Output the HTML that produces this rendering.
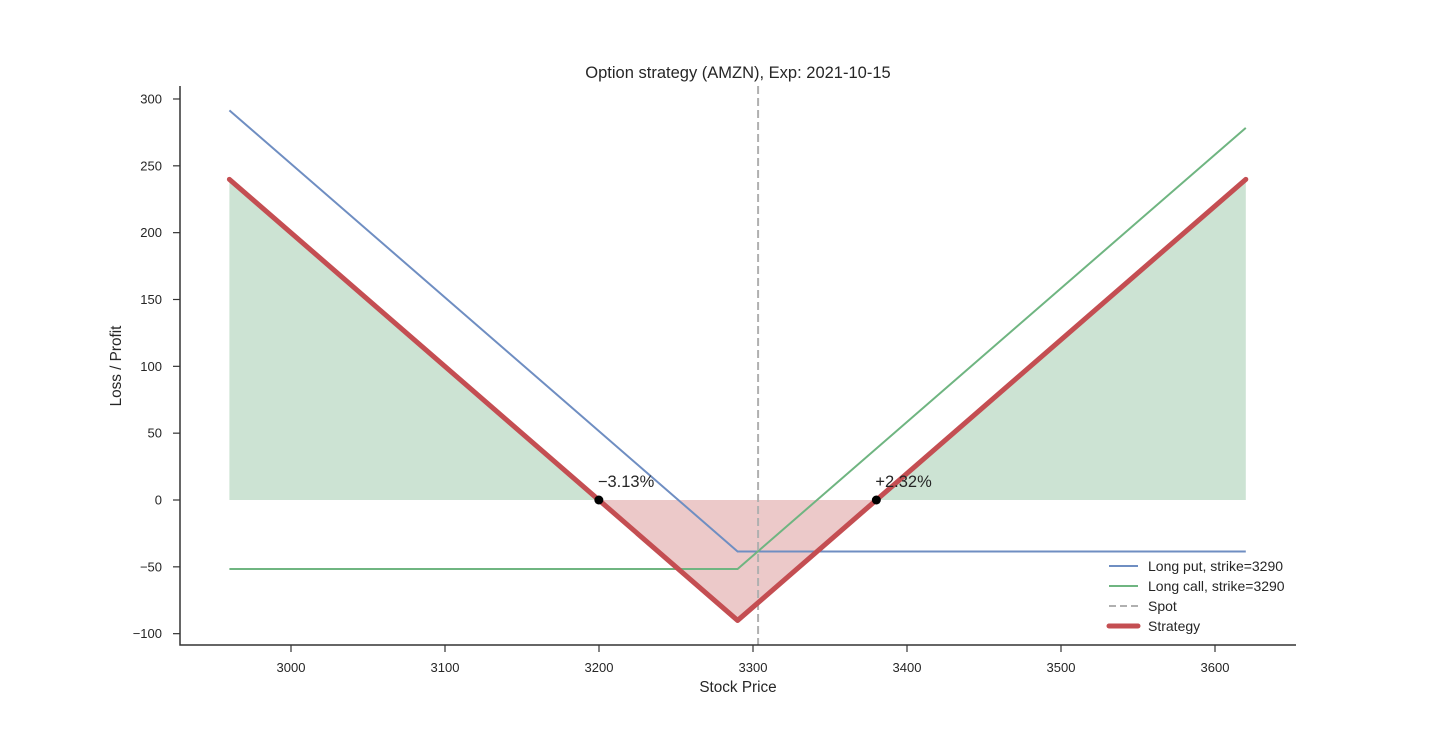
<!DOCTYPE html>
<html><head><meta charset="utf-8"><style>
body{margin:0;background:#fff;}
svg text{font-family:"Liberation Sans",sans-serif;fill:#262626;}
</style></head><body>
<svg id="chart" width="1440" height="725" xmlns="http://www.w3.org/2000/svg">
<g id="fills"></g><g id="lines"></g><g id="axes"></g><g id="legend"></g>
</svg>
<script>
const priceGrid = [2960, 3290, 3620];
const putValues = [291.5, -38.5, -38.5];
const callValues = [-51.6, -51.6, 278.4];
const strategyValues = [239.9, -90.1, 239.9];
const breakevens = [3199.9, 3380.1];
const breakevenLabels = ["\u22123.13%", "+2.32%"];
const spotPrice = 3303.3;
const xTicks = [3000, 3100, 3200, 3300, 3400, 3500, 3600];
const yTicks = [-100, -50, 0, 50, 100, 150, 200, 250, 300];
const legendLabels = ["Long put, strike=3290", "Long call, strike=3290", "Spot", "Strategy"];

const NS = "http://www.w3.org/2000/svg";
const X = v => 291 + (v - 3000) * 1.54;
const Y = v => 500 - v * 1.3367;
function el(tag, attrs, parent, txt) {
  const e = document.createElementNS(NS, tag);
  for (const k in attrs) e.setAttribute(k, attrs[k]);
  if (txt !== undefined) e.textContent = txt;
  document.getElementById(parent).appendChild(e);
  return e;
}
let gp = `M${X(priceGrid[0])},${Y(0)} L${X(priceGrid[0])},${Y(strategyValues[0])} L${X(breakevens[0])},${Y(0)} Z`;
let rp = `M${X(breakevens[0])},${Y(0)} L${X(priceGrid[1])},${Y(strategyValues[1])} L${X(breakevens[1])},${Y(0)} Z`;
let gp2 = `M${X(breakevens[1])},${Y(0)} L${X(priceGrid[2])},${Y(strategyValues[2])} L${X(priceGrid[2])},${Y(0)} Z`;
let f1 = el("path", {d: gp, fill: "#cce3d3"}, "fills");


let f2 = el("path", {d: gp2, fill: "#cce3d3"}, "fills");


let f3 = el("path", {d: rp, fill: "#ecc9c9"}, "fills");


function pts(vals) { return priceGrid.map((p, i) => `${X(p)},${Y(vals[i])}`).join(" "); }
let l1 = el("polyline", {points: pts(putValues), fill: "none", stroke: "#6f8ec2", "stroke-width": 2}, "lines");


let l2 = el("polyline", {points: pts(callValues), fill: "none", stroke: "#6fb581", "stroke-width": 2}, "lines");


let sp = el("line", {x1: X(spotPrice), x2: X(spotPrice), y1: 86, y2: 645, stroke: "#b0b0b0", "stroke-width": 2, "stroke-dasharray": "8,4"}, "lines");


let l3 = el("polyline", {points: pts(strategyValues), fill: "none", stroke: "#c44e52", "stroke-width": 5, "stroke-linejoin": "round", "stroke-linecap": "round"}, "lines");


breakevens.forEach((b, i) => {
  let c = el("circle", {cx: X(b), cy: Y(0), r: 4.5, fill: "#000"}, "lines");
  
  
  let t = el("text", {x: X(b) - 1, y: Y(0) - 13, "font-size": 16.5}, "lines", breakevenLabels[i]);
  
  
});
let ax = el("path", {d: "M180,86 L180,645 L1296,645", fill: "none", stroke: "#333", "stroke-width": 1.5}, "axes");


xTicks.forEach(v => {
  el("line", {x1: X(v), x2: X(v), y1: 645, y2: 652, stroke: "#333", "stroke-width": 1.2}, "axes");
  let t = el("text", {x: X(v), y: 672, "font-size": 13, "text-anchor": "middle"}, "axes", v);
  
  
});
yTicks.forEach(v => {
  el("line", {x1: 173, x2: 180, y1: Y(v), y2: Y(v), stroke: "#333", "stroke-width": 1.2}, "axes");
  let t = el("text", {x: 162, y: Y(v) + 4.5, "font-size": 13, "text-anchor": "end"}, "axes", v < 0 ? "\u2212" + (-v) : v);
  
  
});
let tt = el("text", {x: 738, y: 78, "font-size": 16.5, "text-anchor": "middle"}, "axes", "Option strategy (AMZN), Exp: 2021-10-15");


let xt = el("text", {x: 738, y: 692, "font-size": 15.3, "text-anchor": "middle"}, "axes", "Stock Price");


let yt = el("text", {x: 0, y: 0, "font-size": 15.3, "text-anchor": "middle", transform: "translate(121,366) rotate(-90)"}, "axes", "Loss / Profit");


const lstyles = [
  {stroke: "#6f8ec2", "stroke-width": 2},
  {stroke: "#6fb581", "stroke-width": 2},
  {stroke: "#b0b0b0", "stroke-width": 2, "stroke-dasharray": "7,4"},
  {stroke: "#c44e52", "stroke-width": 5, "stroke-linecap": "round"}
];
legendLabels.forEach((lab, i) => {
  const y = 566 + i * 20;
  el("line", Object.assign({x1: 1109, x2: 1138, y1: y, y2: y}, lstyles[i]), "legend");
  let t = el("text", {x: 1148, y: y + 5, "font-size": 14}, "legend", lab);
  
  
});
</script>
</body></html>
